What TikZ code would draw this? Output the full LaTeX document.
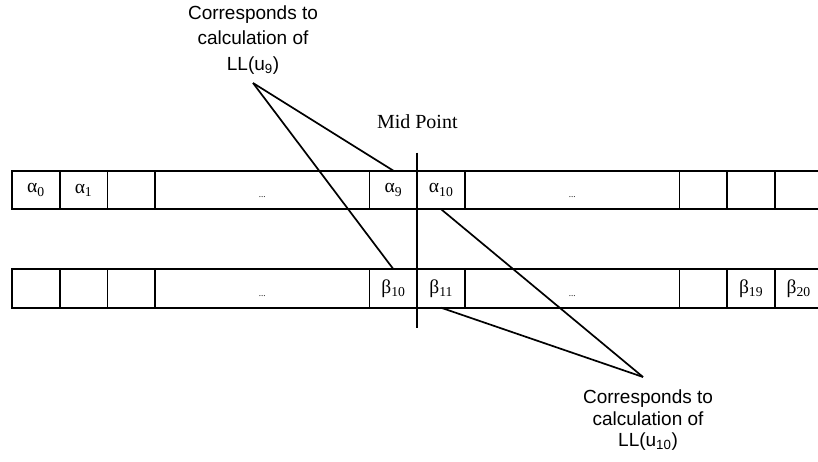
\documentclass[tikz,border=0pt]{standalone}
\usepackage{fontspec}
\setmainfont{Liberation Serif}
\setsansfont{Liberation Sans}
\usetikzlibrary{positioning,calc}

\begin{document}
\begin{tikzpicture}[
    x=1pt,y=1pt,
    line width=1.7pt,
    cell/.style={draw,rectangle,outer sep=0pt,inner sep=0pt,minimum width=47.7pt,minimum height=38.5pt,font=\fontsize{19.5}{19.5}\selectfont},
    gapcell/.style={cell,minimum width=214.5pt},
    note/.style={align=center,inner xsep=2pt,font=\sffamily\fontsize{19}{25.5}\selectfont}
  ]
    \clip (0,0) rectangle (818,-462);
    \newcommand{\gapdots}{\raisebox{-8pt}[0pt][0pt]{\fontsize{9}{9}\selectfont ...}}

    % alpha row
    \node[cell] (a0) at (35.85,-190) {α\textsubscript{0}};
    \node[cell,right=0pt of a0] (a1) {α\textsubscript{1}};
    \node[cell,right=0pt of a1] (a2) {};
    \node[gapcell,right=0pt of a2] (a3) {\gapdots};
    \node[cell,right=0pt of a3] (a9) {α\textsubscript{9}};
    \node[cell,right=0pt of a9] (a10) {α\textsubscript{10}};
    \node[gapcell,right=0pt of a10] (a11) {\gapdots};
    \node[cell,right=0pt of a11] (a18) {};
    \node[cell,right=0pt of a18] (a19) {};
    \node[cell,right=0pt of a19] (a20) {};

    % beta row
    \node[cell] (b0) at (35.85,-288.5) {};
    \node[cell,right=0pt of b0] (b1) {};
    \node[cell,right=0pt of b1] (b2) {};
    \node[gapcell,right=0pt of b2] (b3) {\gapdots};
    \node[cell,right=0pt of b3] (b10) {β\textsubscript{10}};
    \node[cell,right=0pt of b10] (b11) {β\textsubscript{11}};
    \node[gapcell,right=0pt of b11] (b12) {\gapdots};
    \node[cell,right=0pt of b12] (b18) {};
    \node[cell,right=0pt of b18] (b19) {β\textsubscript{19}};
    \node[cell,right=0pt of b19] (b20) {β\textsubscript{20}};

    % mid point
    \coordinate (midtop) at ($(a10.north west)+(0,18)$);
    \coordinate (midbot) at ($(b11.south west)+(0,-20)$);
    \node[inner sep=2pt,font=\fontsize{20}{20}\selectfont,above=21pt of midtop] (midlbl) {Mid Point};
    \draw (midtop) -- (midbot);

    % notes
    \node[note,inner ysep=8pt,anchor=south] (top9) at (253,-83) {Corresponds to\\calculation of\\LL(u\textsubscript{9})};
    \node[note,inner ysep=12pt,anchor=north,font=\sffamily\fontsize{19}{21.5}\selectfont] (low10) at (648,-377) {Corresponds to\\calculation of\\LL(u\textsubscript{10})};

    \draw (top9.south) -- (a9.north);
    \draw (top9.south) -- (b10.north);
    \draw (a10.south) -- ([xshift=-5pt]low10.north);
    \draw (b11.south) -- ([xshift=-5pt]low10.north);
  \end{tikzpicture}
\end{document}
